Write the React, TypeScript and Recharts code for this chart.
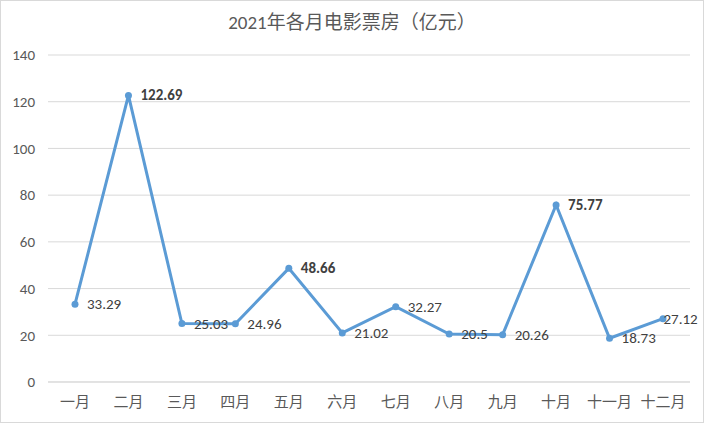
import React from "react"
import { LineChart, Line, XAxis, YAxis, CartesianGrid, LabelList } from "recharts"

// 2021 monthly box office (100 million yuan)
const months = ["一月", "二月", "三月", "四月", "五月", "六月", "七月", "八月", "九月", "十月", "十一月", "十二月"]
const boxOffice = [33.29, 122.69, 25.03, 24.96, 48.66, 21.02, 32.27, 20.5, 20.26, 75.77, 18.73, 27.12]
const yTicks = [0, 20, 40, 60, 80, 100, 120, 140]

const data = months.map((month, i) => ({ month, value: boxOffice[i] }))

const boldMonths = ["二月", "五月", "十月"]
const FONT = "Calibri, 'Noto Sans CJK SC', sans-serif"
const BLUE = "#5B9BD5"
const CHART_W = 704

function PointLabel(props: any) {
  const { x, y, value, index } = props
  const bold = boldMonths.includes(months[index])
  // keep the label inside the chart, like Excel does on the last point
  const approxWidth = String(value).length * 7.5
  const lx = Math.min(x + 12, CHART_W - 3 - approxWidth)
  return (
    <text
      x={lx}
      y={y}
      dominantBaseline="central"
      fontSize={15}
      fontFamily={FONT}
      fontWeight={bold ? "bold" : "normal"}
      fill="#404040"
    >
      {value}
    </text>
  )
}

export default function App() {
  return (
    <div
      style={{
        position: "absolute",
        left: 0,
        top: 0,
        width: CHART_W,
        height: 423,
        background: "#fff",
        boxSizing: "border-box",
        border: "1px solid #d9d9d9",
        fontFamily: FONT,
      }}
    >
      <div
        style={{
          position: "absolute",
          top: 6,
          width: "100%",
          textAlign: "center",
          fontSize: 19,
          color: "#595959",
        }}
      >
        2021年各月电影票房（亿元）
      </div>
      <div style={{ position: "absolute", left: -1, top: -1 }}>
        <LineChart width={CHART_W} height={423} data={data} margin={{ top: 55, right: 14, bottom: 11, left: 0 }}>
          <CartesianGrid vertical={false} stroke="#d9d9d9" />
          <XAxis
            dataKey="month"
            axisLine={{ stroke: "#d9d9d9" }}
            tickLine={false}
            tickMargin={8}
            height={30}
            interval={0}
            padding={{ left: 27, right: 27 }}
            tick={{ fill: "#595959", fontSize: 15, fontFamily: FONT }}
          />
          <YAxis
            domain={[0, 140]}
            ticks={yTicks}
            width={48}
            axisLine={false}
            tickLine={false}
            tickMargin={7}
            tick={{ fill: "#595959", fontSize: 15, fontFamily: FONT }}
          />
          <Line
            type="linear"
            dataKey="value"
            stroke={BLUE}
            strokeWidth={3}
            dot={{ r: 3.5, fill: BLUE, stroke: BLUE, strokeWidth: 0 }}
            isAnimationActive={false}
          >
            <LabelList dataKey="value" content={<PointLabel />} />
          </Line>
        </LineChart>
      </div>
    </div>
  )
}
